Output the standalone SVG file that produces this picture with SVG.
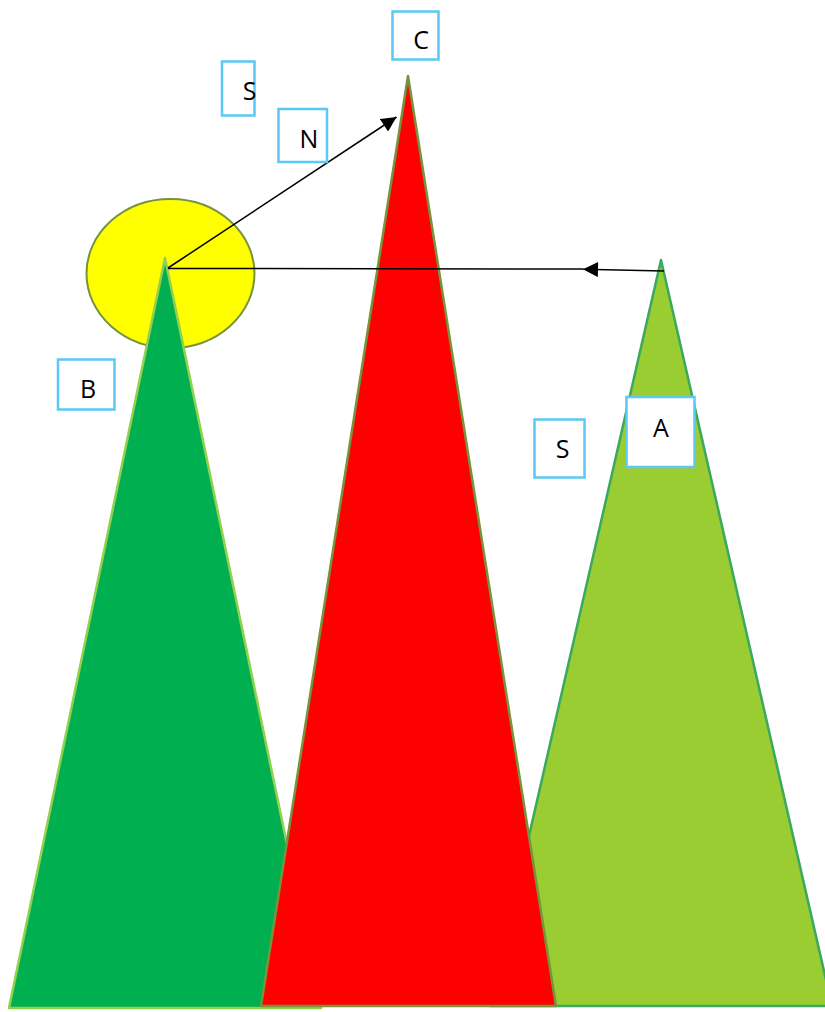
<svg xmlns="http://www.w3.org/2000/svg" width="825" height="1012" viewBox="0 0 825 1012">
<defs>
<style>
.lbl rect{fill:#fff;stroke:#5BC8F5;stroke-width:2.5}
.lbl text{font-family:"Open Sans","Liberation Sans",sans-serif;font-size:25px;fill:#000;text-anchor:middle}
.conn line{stroke:#000;stroke-width:1.5;fill:none}
</style>
<marker id="ah" viewBox="0 0 10 10" refX="10" refY="5" markerWidth="16" markerHeight="15" markerUnits="userSpaceOnUse" orient="auto">
<path d="M0,0 L10,5 L0,10 z" fill="#000"/>
</marker>
</defs>
<rect width="825" height="1012" fill="#fff"/>
<g id="sun"><ellipse cx="170.5" cy="273.5" rx="84" ry="74.5" fill="#FFFF00" stroke="#77933C" stroke-width="2"/></g>
<g id="triB"><polygon points="165,258 9,1008 321,1008" fill="#00B050" stroke="#92D050" stroke-width="2.5" stroke-linejoin="round"/></g>
<g id="triA"><polygon points="661,260 490,1006 832,1006" fill="#9ACD32" stroke="#3BA860" stroke-width="2.5" stroke-linejoin="round"/></g>
<g id="triC"><polygon points="408,76 261,1006 556,1006" fill="#FF0000" stroke="#77933C" stroke-width="2.5" stroke-linejoin="round"/></g>
<g id="connectors" class="conn">
<line x1="168" y1="268" x2="396.5" y2="117" marker-end="url(#ah)"/>
<line x1="664" y1="271" x2="583" y2="269.3" marker-end="url(#ah)"/>
<line x1="583" y1="269" x2="168" y2="268.5"/>
</g>
<g id="labelC" class="lbl"><rect x="392.5" y="11.5" width="46" height="48"/><text x="421" y="49">C</text></g>
<g id="labelS1" class="lbl"><rect x="222" y="61.5" width="32.5" height="54"/><text x="249.5" y="100">S</text></g>
<g id="labelN" class="lbl"><rect x="278.5" y="109" width="48.5" height="53"/><text x="309" y="147.5">N</text></g>
<g id="labelB" class="lbl"><rect x="58" y="359.5" width="56.5" height="50"/><text x="88" y="398">B</text></g>
<g id="labelA" class="lbl"><rect x="626.5" y="397" width="68" height="70"/><text x="661" y="436.5">A</text></g>
<g id="labelS2" class="lbl"><rect x="534.5" y="419.5" width="50" height="58"/><text x="562.5" y="458">S</text></g>
</svg>
